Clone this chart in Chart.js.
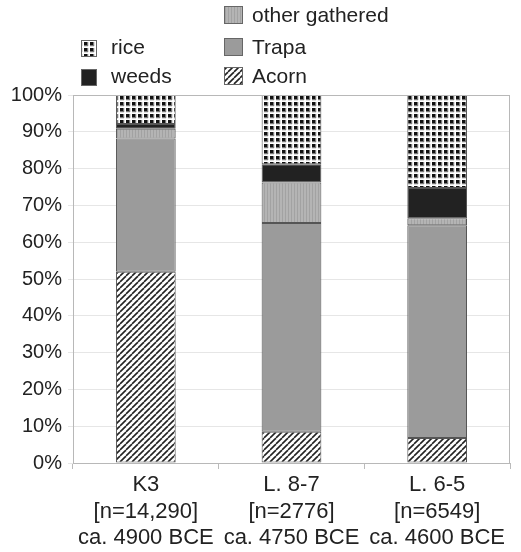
<!DOCTYPE html>
<html>
<head>
<meta charset="utf-8">
<script src="https://cdn.jsdelivr.net/npm/chart.js@4/dist/chart.umd.min.js"></script>
<style>
html,body{margin:0;padding:0;background:#fff;}
#wrap{width:521px;height:552px;position:relative;}
</style>
</head>
<body>
<div id="wrap"><canvas id="c" width="521" height="552"></canvas></div>
<script>
const categories = [
  ["K3", "[n=14,290]", "ca. 4900 BCE"],
  ["L. 8-7", "[n=2776]", "ca. 4750 BCE"],
  ["L. 6-5", "[n=6549]", "ca. 4600 BCE"]
];
const seriesNames = ["Acorn", "Trapa", "other gathered", "weeds", "rice"];
const acorn = [52, 8.5, 6.8];
const trapa = [36.2, 56.7, 57.8];
const otherGathered = [2.6, 11, 1.9];
const weeds = [1.3, 5, 8.2];
const rice = [7.9, 18.8, 25.3];
const yTicks = [0, 10, 20, 30, 40, 50, 60, 70, 80, 90, 100];

function makePattern(w, h, draw) {
  const c = document.createElement('canvas');
  c.width = w; c.height = h;
  const g = c.getContext('2d');
  draw(g, w, h);
  return g.createPattern(c, 'repeat');
}
const ctxMain = document.getElementById('c').getContext('2d');
const acornPat = makePattern(6, 6, (g) => {
  g.fillStyle = '#fff'; g.fillRect(0, 0, 6, 6);
  g.strokeStyle = '#222'; g.lineWidth = 1.6;
  for (let k = -6; k <= 12; k += 6) {
    g.beginPath(); g.moveTo(k, 6); g.lineTo(k + 6, 0); g.stroke();
  }
});
const ricePat = makePattern(6, 6, (g) => {
  g.fillStyle = '#fff'; g.fillRect(0, 0, 6, 6);
  g.fillStyle = '#777'; g.fillRect(0, 0, 4, 4);
  g.fillStyle = '#111'; g.fillRect(0, 0, 3, 3);
  g.fillStyle = '#ddd'; g.fillRect(4, 0, 1, 4); g.fillRect(0, 4, 4, 1);
});
const otherPat = makePattern(3, 3, (g) => {
  g.fillStyle = '#b4b4b4'; g.fillRect(0, 0, 3, 3);
  g.fillStyle = '#a2a2a2'; g.fillRect(0, 0, 1, 3);
});
const fills = [acornPat, '#9b9b9b', otherPat, '#222222', ricePat];
const values = [acorn, trapa, otherGathered, weeds, rice];

const datasets = seriesNames.map((name, i) => ({
  label: name,
  data: values[i],
  backgroundColor: fills[i],
  borderColor: '#555',
  borderWidth: 1,
  borderSkipped: false,
  barPercentage: 0.41,
  categoryPercentage: 1.0
}));

const FONT = "'Liberation Sans', Arial, sans-serif";

// legend layout: [series index, box x, box y, box w, box h, text x, text y]
const legendLayout = [
  [2, 224, 6, 19, 18, 252, 16],
  [4, 81, 40, 16, 17, 111, 48],
  [1, 224, 38, 19, 18, 252, 48],
  [3, 81, 69, 16, 17, 111, 77],
  [0, 224, 67, 19, 18, 252, 77]
];

const framePlugin = {
  id: 'frame',
  afterDraw(chart) {
    const g = chart.ctx, a = chart.chartArea;
    g.save();
    g.strokeStyle = '#b8b8b8'; g.lineWidth = 1;
    g.strokeRect(Math.round(a.left) + 0.5, Math.round(a.top) + 0.5,
      Math.round(a.right - a.left) - 1, Math.round(a.bottom - a.top));
    // legend
    g.font = '21px ' + FONT;
    g.textBaseline = 'middle';
    legendLayout.forEach(([si, bx, by, bw, bh, tx, ty]) => {
      const ds = chart.data.datasets[si];
      g.fillStyle = ds.backgroundColor;
      g.fillRect(bx, by, bw, bh);
      g.strokeStyle = '#666';
      g.strokeRect(bx + 0.5, by + 0.5, bw - 1, bh - 1);
      g.fillStyle = '#222';
      g.fillText(ds.label, tx, ty);
    });
    g.restore();
  }
};

new Chart(ctxMain, {
  type: 'bar',
  data: { labels: categories, datasets },
  options: {
    responsive: false,
    animation: false,
    layout: { padding: { top: 95, right: 11, left: 0, bottom: 0 } },
    plugins: { legend: { display: false }, tooltip: { enabled: false } },
    scales: {
      x: {
        stacked: true,
        grid: { display: true, offset: true, drawOnChartArea: false, tickLength: 6, color: '#bbb' },
        border: { display: false },
        ticks: { color: '#222', font: { family: FONT, size: 22, lineHeight: 1.2 }, padding: 3, maxRotation: 0 },
        afterFit(s) { s.height = 89; }
      },
      y: {
        stacked: true,
        min: 0, max: 100,
        afterBuildTicks(s) { s.ticks = yTicks.map(v => ({ value: v })); },
        grid: { color: '#e6e6e6', tickLength: 5 },
        border: { display: false },
        ticks: { color: '#222', font: { family: FONT, size: 20 }, padding: 6,
          callback: v => v + '%' },
        afterFit(s) { s.width = 73; }
      }
    }
  },
  plugins: [framePlugin]
});
</script>
</body>
</html>
